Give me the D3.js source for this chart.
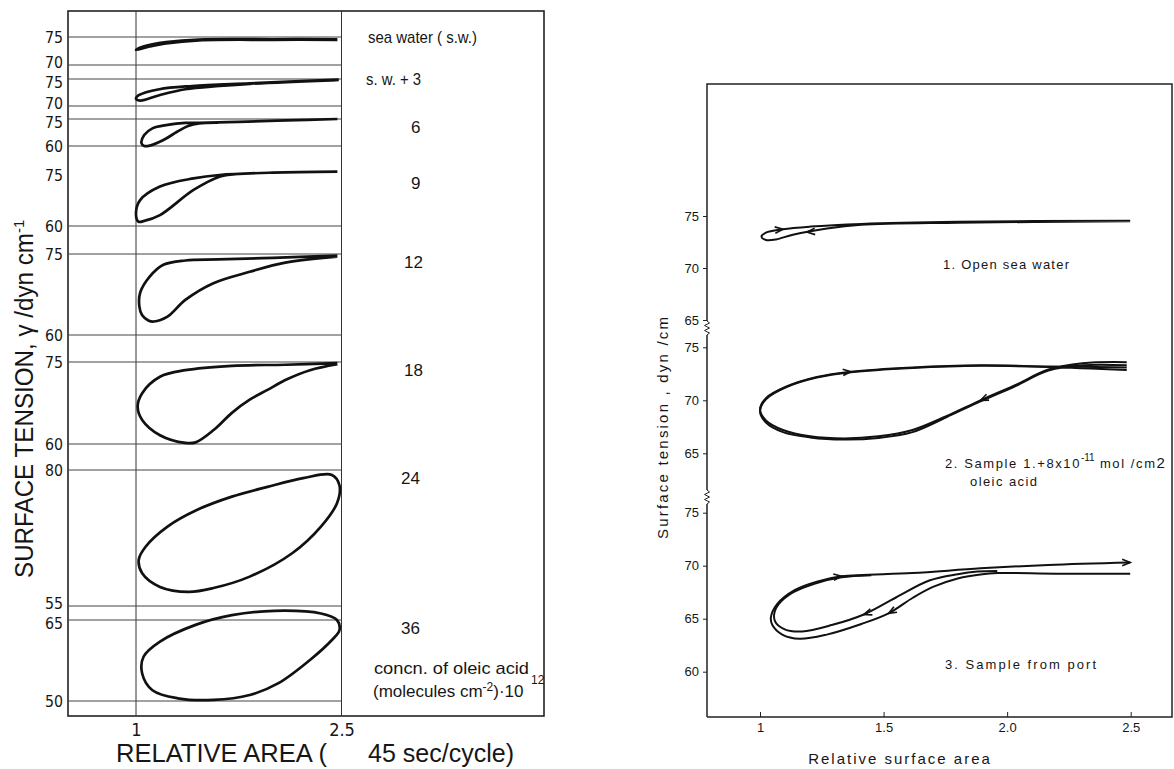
<!DOCTYPE html>
<html>
<head>
<meta charset="utf-8">
<script src="https://cdn.jsdelivr.net/npm/d3@7"></script>
<style>
  body { margin: 0; background: #fff; }
  svg { display: block; }
  text { fill: #161616; font-family: "Liberation Sans", "DejaVu Sans", sans-serif; }
  .narrow { font-family: "Liberation Sans Narrow", "DejaVu Sans Condensed", "Liberation Sans", sans-serif; }
</style>
</head>
<body>
<script>
// ---------- left figure: hysteresis loops for increasing oleic acid ----------
var concLabels = ["sea water ( s.w.)", "s. w. + 3", "6", "9", "12", "18", "24", "36"];
var bandHigh = [75, 75, 75, 75, 75, 75, 80, 65];   // upper reference value of each strip
var bandLow  = [70, 70, 60, 60, 60, 60, 55, 50];   // lower reference value of each strip
var leftXTicks = [1, 2.5];

var swX  = [2.47, 2.0, 1.46, 1.22, 1.12, 1.02, 1.0, 1.1, 1.22, 1.46, 2.0, 2.47];
var swY  = [74.6, 74.6, 74.55, 74.1, 73.7, 73.0, 72.7, 73.3, 73.85, 74.4, 74.5, 74.5];
var sw3X = [2.48, 1.83, 1.41, 1.17, 1.02, 1.0, 1.03, 1.17, 1.36, 1.61, 1.83, 2.48];
var sw3Y = [74.9, 74.2, 73.7, 73.1, 72.0, 71.4, 71.0, 72.0, 73.1, 73.7, 74.1, 74.8];
var c6X  = [2.47, 2.1, 1.75, 1.46, 1.36, 1.23, 1.12, 1.06, 1.04, 1.06, 1.10, 1.20, 1.30, 1.38, 1.46, 1.6];
var c6Y  = [75.0, 74.2, 73.4, 72.9, 72.8, 71.7, 69.8, 66.1, 61.5, 60.0, 60.2, 63.3, 67.9, 71.1, 72.6, 73.0];
var c9X  = [2.47, 2.0, 1.61, 1.42, 1.175, 1.03, 1.0, 1.017, 1.06, 1.175, 1.42, 1.61, 1.75];
var c9Y  = [76.0, 75.7, 75.0, 74.0, 71.6, 67.6, 63.8, 61.3, 61.5, 63.2, 70.6, 74.5, 75.3];
var c12X = [2.47, 2.0, 1.6, 1.36, 1.2, 1.1, 1.03, 1.025, 1.044, 1.09, 1.13, 1.23, 1.36, 1.565, 1.83, 2.09, 2.47];
var c12Y = [74.7, 74.3, 74.0, 73.8, 73.0, 70.8, 67.8, 65.2, 63.7, 62.7, 62.5, 63.4, 66.5, 69.6, 71.7, 73.4, 74.5];
var c18X = [2.47, 2.09, 1.7, 1.36, 1.175, 1.045, 1.012, 1.045, 1.175, 1.36, 1.435, 1.569, 1.70, 1.83, 1.96, 2.09, 2.27, 2.47];
var c18Y = [74.8, 74.5, 74.3, 73.5, 72.3, 69.3, 66.8, 64.4, 61.6, 60.2, 60.3, 62.6, 65.7, 68.1, 69.9, 71.7, 73.5, 74.6];
var c24X = [2.43, 2.485, 2.467, 2.35, 2.14, 1.83, 1.565, 1.385, 1.175, 1.045, 1.02, 1.07, 1.23, 1.44, 1.70, 1.96, 2.22];
var c24Y = [79.1, 77.2, 73.9, 69.6, 64.7, 60.4, 58.3, 57.6, 58.5, 61.0, 63.5, 65.9, 69.6, 72.6, 75.1, 76.9, 78.5];
var c36X = [2.01, 2.35, 2.467, 2.485, 2.43, 2.27, 2.04, 1.83, 1.565, 1.305, 1.12, 1.045, 1.055, 1.175, 1.435, 1.70];
var c36Y = [66.7, 66.2, 65.0, 63.1, 61.3, 57.6, 53.3, 51.1, 50.2, 50.5, 52.0, 55.1, 58.2, 61.0, 64.1, 65.9];

// ---------- right figure: three samples ----------
var rightXTicks = [1, 1.5, 2.0, 2.5];
var rTicks1 = [75, 70, 65];
var rTicks2 = [75, 70, 65];
var rTicks3 = [75, 70, 65, 60];

var rp1X = [2.498, 1.8, 1.41, 1.203, 1.093, 1.024, 1.006, 1.024, 1.065, 1.133, 1.271, 1.41, 1.8, 2.498];
var rp1Y = [74.55, 74.45, 74.24, 73.98, 73.73, 73.4, 73.0, 72.7, 72.75, 73.2, 73.8, 74.15, 74.35, 74.5];

var rp2X  = [2.484, 2.305, 2.167, 2.03, 1.892, 1.754, 1.617, 1.479, 1.341, 1.203, 1.093, 1.024, 1.0, 1.024, 1.107, 1.23, 1.368, 1.617, 1.892, 2.167, 2.484];
var rp2YA = [73.6, 73.5, 72.9, 71.4, 70.0, 68.5, 67.2, 66.6, 66.4, 66.6, 67.2, 68.1, 69.1, 70.2, 71.3, 72.2, 72.7, 73.1, 73.3, 73.2, 73.1];
var rp2YB = [73.3, 73.3, 72.8, 71.3, 69.9, 68.4, 67.0, 66.45, 66.3, 66.5, 67.0, 67.9, 69.0, 70.1, 71.25, 72.15, 72.65, 73.05, 73.25, 73.15, 72.85];

var rp3AX = [2.498, 2.2, 1.96, 1.90, 1.80, 1.70, 1.62, 1.52, 1.41, 1.27, 1.16, 1.09, 1.05, 1.044, 1.07, 1.14, 1.23, 1.33, 1.617, 1.892, 2.167, 2.498];
var rp3AY = [69.25, 69.25, 69.3, 69.2, 68.8, 68.0, 67.0, 65.5, 64.5, 63.5, 63.1, 63.5, 64.4, 65.1, 66.4, 67.7, 68.5, 69.0, 69.3, 69.75, 70.07, 70.3];
var rp3BX = [1.96, 1.88, 1.80, 1.685, 1.55, 1.42, 1.29, 1.17, 1.10, 1.06, 1.065, 1.12, 1.22, 1.33, 1.45];
var rp3BY = [69.5, 69.45, 69.2, 68.6, 67.0, 65.4, 64.4, 63.8, 64.0, 64.8, 66.0, 67.3, 68.3, 68.9, 69.1];

// arrows: [panel, x, y, dx, dy]  (direction of travel)
var rArrows = [
  [0, 1.093, 73.73, 0.1, 0.25], [0, 1.19, 73.45, -0.1, -0.2],
  [1, 1.368, 72.7, 0.1, 0.2], [1, 1.892, 70.0, -0.1, -1.0],
  [2, 1.33, 69.0, 0.1, 0.25], [2, 1.42, 65.4, -0.1, -0.8], [2, 1.52, 65.5, -0.1, -1.3], [2, 2.498, 70.3, 0.1, 0.01]
];

var zip = function (xs, ys) { return xs.map(function (x, i) { return [x, ys[i]]; }); };

var svg = d3.select("body").append("svg").attr("width", 1174).attr("height", 769);

// ===== LEFT =====
var LF = {left: 68, right: 544, top: 11, bottom: 716};
var bandTopPx = [37, 79, 119, 175, 254, 362, 470, 620];
var bandBotPx = [65, 106, 146, 226, 335, 444, 606, 701];
var xL = d3.scaleLinear().domain([1, 2.5]).range([136, 341.5]);
var yL = bandHigh.map(function (h, i) {
  return d3.scaleLinear().domain([bandLow[i], h]).range([bandBotPx[i], bandTopPx[i]]);
});

var gl = svg.append("g");
gl.append("rect").attr("x", LF.left).attr("y", LF.top)
  .attr("width", LF.right - LF.left).attr("height", LF.bottom - LF.top)
  .attr("fill", "none").attr("stroke", "#222").attr("stroke-width", 1.6);
gl.selectAll(".vg").data(leftXTicks).enter().append("line")
  .attr("x1", function (d) { return xL(d); }).attr("x2", function (d) { return xL(d); })
  .attr("y1", LF.top).attr("y2", LF.bottom).attr("stroke", "#333").attr("stroke-width", 1);

bandHigh.forEach(function (h, i) {
  var refs = [h, bandLow[i]];
  refs.forEach(function (v, k) {
    var y = yL[i](v);
    if (!(i === 3 && k === 0)) {
      gl.append("line").attr("x1", LF.left).attr("x2", xL(2.5))
        .attr("y1", y).attr("y2", y)
        .attr("stroke", "#444").attr("stroke-width", 1);
    }
    // labels of strips that sit close together are nudged apart, as in the print
    var nudge = 0;
    if (k === 1 && (i === 0 || i === 1 || i === 6)) nudge = -3;
    if (k === 0 && (i === 1 || i === 2 || i === 7)) nudge = 3;
    gl.append("text").attr("class", "narrow").attr("x", 63).attr("y", y + nudge).attr("dy", "0.36em")
      .attr("text-anchor", "end").style("font-size", "16px")
      .attr("textLength", 18).attr("lengthAdjust", "spacingAndGlyphs").text(v);
  });
});

var leftCurves = [[swX, swY, false], [sw3X, sw3Y, false], [c6X, c6Y, false], [c9X, c9Y, false],
                  [c12X, c12Y, false], [c18X, c18Y, false], [c24X, c24Y, true], [c36X, c36Y, true]];
leftCurves.forEach(function (c, i) {
  var line = d3.line()
    .x(function (d) { return xL(d[0]); })
    .y(function (d) { return yL[i](d[1]); })
    .curve(c[2] ? d3.curveCatmullRomClosed : d3.curveCatmullRom);
  gl.append("path").attr("d", line(zip(c[0], c[1])))
    .attr("fill", "none").attr("stroke", "#111").attr("stroke-width", 2.7).attr("stroke-linejoin", "round");
});

// strip labels
var labelX = [368, 366, 411, 411, 404, 404, 401, 401];
concLabels.forEach(function (s, i) {
  var t = gl.append("text").attr("x", labelX[i]).attr("y", (i < 2 ? bandTopPx[i] : bandTopPx[i] + 8) + 6)
    .style("font-size", "17px").text(s);
  if (i === 0) t.attr("textLength", 109).attr("lengthAdjust", "spacingAndGlyphs");
  if (i === 1) t.attr("textLength", 55).attr("lengthAdjust", "spacingAndGlyphs");
});
gl.append("text").attr("x", 374).attr("y", 674).style("font-size", "17px")
  .attr("textLength", 155).attr("lengthAdjust", "spacingAndGlyphs").text("concn. of oleic acid");
var mt = gl.append("text").attr("x", 373).attr("y", 697).style("font-size", "17px");
mt.append("tspan").text("(molecules cm");
mt.append("tspan").attr("dy", -6).style("font-size", "12px").text("-2");
mt.append("tspan").attr("dy", 6).text(")\u00b710");
gl.append("text").attr("x", 531).attr("y", 684).style("font-size", "12px").text("12");

// left x axis
var axL = gl.append("g").attr("transform", "translate(0," + LF.bottom + ")")
  .call(d3.axisBottom(xL).tickValues(leftXTicks).tickSize(0).tickPadding(7)
    .tickFormat(function (d) { return d === 1 ? "1" : "2.5"; }));
axL.select(".domain").remove();
axL.selectAll("text").attr("class", "narrow").style("font-size", "18px").attr("fill", "#161616");

gl.append("text").attr("x", 116).attr("y", 762).style("font-size", "25px")
  .attr("textLength", 211).attr("lengthAdjust", "spacingAndGlyphs").text("RELATIVE AREA (");
gl.append("text").attr("x", 368).attr("y", 762).style("font-size", "25px")
  .attr("textLength", 146).attr("lengthAdjust", "spacingAndGlyphs").text("45 sec/cycle)");

var yt = gl.append("text").attr("transform", "translate(33,578) rotate(-90)").style("font-size", "25px");
yt.append("tspan").attr("textLength", 345).attr("lengthAdjust", "spacingAndGlyphs")
  .text("SURFACE TENSION, \u03b3 /dyn cm");
yt.append("tspan").attr("dy", -9).style("font-size", "15px").text("-1");

// ===== RIGHT =====
var RF = {left: 707, right: 1172, top: 84, bottom: 717};
var xR = d3.scaleLinear().domain([1, 2.5]).range([760, 1130.7]);
var yR = [
  d3.scaleLinear().domain([65, 75]).range([320, 216]),
  d3.scaleLinear().domain([65, 75]).range([453.3, 347.3]),
  d3.scaleLinear().domain([60, 75]).range([671.7, 512.7])
];
var rTicks = [rTicks1, rTicks2, rTicks3];
var gr = svg.append("g");

gr.append("path")
  .attr("d", "M" + RF.left + "," + RF.bottom + "V" + RF.top + "H" + RF.right + "V" + RF.bottom + "H" + RF.left)
  .attr("fill", "none").attr("stroke", "#222").attr("stroke-width", 1.5);

yR.forEach(function (s, i) {
  var a = gr.append("g").attr("transform", "translate(" + RF.left + ",0)")
    .call(d3.axisLeft(s).tickValues(rTicks[i]).tickSize(4).tickPadding(4).tickFormat(d3.format("d")));
  a.select(".domain").remove();
  a.selectAll("line").attr("stroke", "#222");
  a.selectAll("text").style("font-size", "13px").attr("fill", "#161616");
});

// axis breaks
[328, 497].forEach(function (yb) {
  gr.append("rect").attr("x", RF.left - 2).attr("y", yb - 7).attr("width", 4).attr("height", 14).attr("fill", "#fff");
  var zz = "M" + RF.left + "," + (yb - 7);
  for (var k = 0; k < 5; k++) zz += "L" + (RF.left + (k % 2 ? -2.5 : 2.5)) + "," + (yb - 5 + k * 2.5);
  zz += "L" + RF.left + "," + (yb + 7);
  gr.append("path").attr("d", zz).attr("fill", "none").attr("stroke", "#222").attr("stroke-width", 1);
});

var axR = gr.append("g").attr("transform", "translate(0," + RF.bottom + ")")
  .call(d3.axisBottom(xR).tickValues(rightXTicks).tickSizeInner(-5).tickSizeOuter(0).tickPadding(6)
    .tickFormat(function (d) { return d === 1 ? "1" : d.toFixed(1); }));
axR.select(".domain").remove();
axR.selectAll("line").attr("stroke", "#222");
axR.selectAll("text").style("font-size", "13px").attr("fill", "#161616");

var rightCurves = [[rp1X, rp1Y, 0], [rp2X, rp2YA, 1], [rp2X, rp2YB, 1], [rp3AX, rp3AY, 2], [rp3BX, rp3BY, 2]];
rightCurves.forEach(function (c) {
  var s = yR[c[2]];
  var line = d3.line()
    .x(function (d) { return xR(d[0]); })
    .y(function (d) { return s(d[1]); })
    .curve(d3.curveCatmullRom);
  gr.append("path").attr("d", line(zip(c[0], c[1])))
    .attr("fill", "none").attr("stroke", "#111").attr("stroke-width", 2).attr("stroke-linejoin", "round");
});

rArrows.forEach(function (a) {
  var s = yR[a[0]];
  var px = xR(a[1]), py = s(a[2]);
  var ang = Math.atan2(s(a[2] + a[4]) - py, xR(a[1] + a[3]) - px) * 180 / Math.PI;
  gr.append("path").attr("d", "M-8,-3.2L0,0L-8,3.2")
    .attr("transform", "translate(" + px + "," + py + ") rotate(" + ang + ")")
    .attr("fill", "none").attr("stroke", "#111").attr("stroke-width", 1.6);
});

gr.append("text").attr("x", 943).attr("y", 269).style("font-size", "13px")
  .attr("textLength", 126).attr("lengthAdjust", "spacing").text("1.  Open  sea  water");
var s2 = gr.append("text").attr("x", 945).attr("y", 468).style("font-size", "13px")
  .style("letter-spacing", "1.6px");
s2.append("tspan").text("2.  Sample  1.+8x10");
s2.append("tspan").attr("dy", -7).style("font-size", "10px").style("letter-spacing", "0px").text("-11");
s2.append("tspan").attr("dy", 7).text(" mol /cm");
s2.append("tspan").style("font-size", "15px").text("2");
gr.append("text").attr("x", 970).attr("y", 486).style("font-size", "13px")
  .attr("textLength", 67).attr("lengthAdjust", "spacing").text("oleic  acid");
gr.append("text").attr("x", 945).attr("y", 669).style("font-size", "13px")
  .attr("textLength", 151).attr("lengthAdjust", "spacing").text("3.   Sample  from  port");

gr.append("text").attr("x", 900).attr("y", 764).attr("text-anchor", "middle").style("font-size", "15px")
  .style("letter-spacing", "2px").text("Relative surface area");
gr.append("text").attr("transform", "translate(668,428) rotate(-90)").attr("text-anchor", "middle")
  .style("font-size", "15px").attr("textLength", 222).attr("lengthAdjust", "spacing")
  .text("Surface tension , dyn /cm");
</script>
</body>
</html>
